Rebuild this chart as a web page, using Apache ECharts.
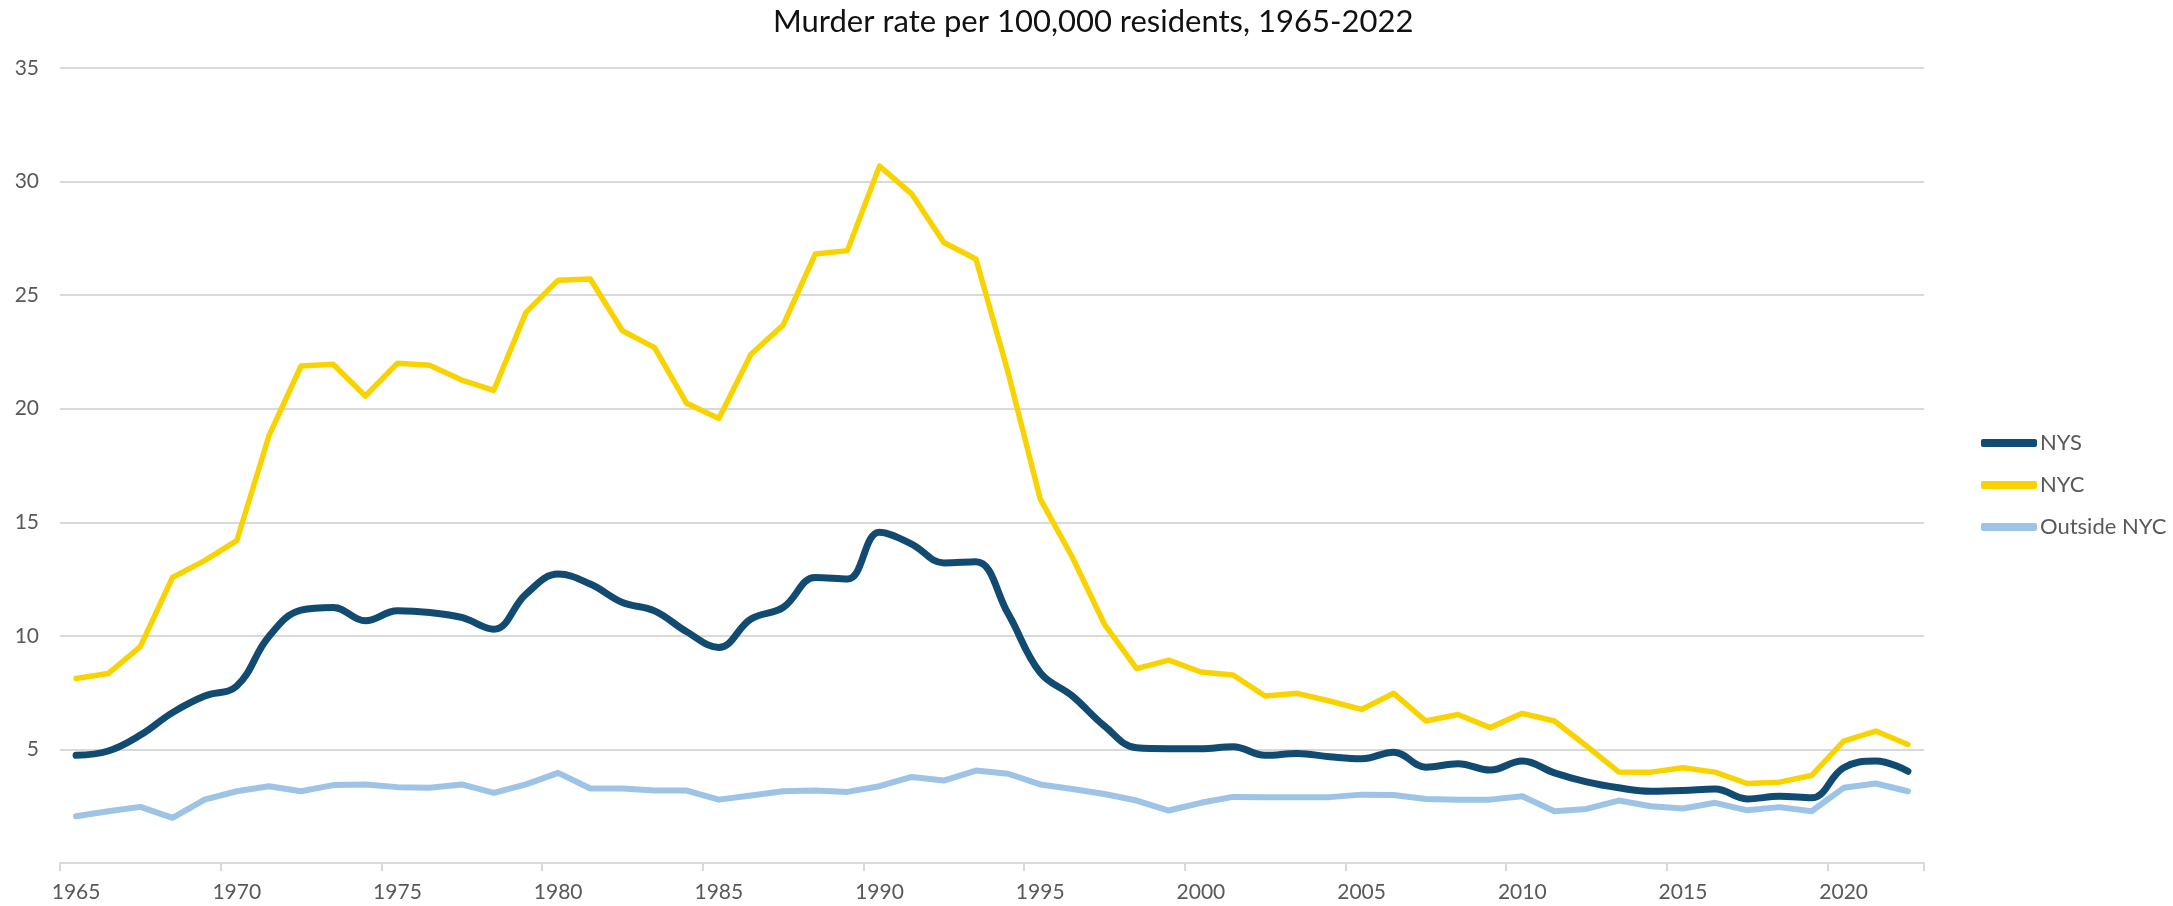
<!DOCTYPE html>
<html>
<head>
<meta charset="utf-8">
<script src="https://cdn.jsdelivr.net/npm/echarts@6/dist/echarts.min.js"></script>
<style>
html,body{margin:0;padding:0;background:#fff;}
#chart{width:2173px;height:906px;}
</style>
</head>
<body>
<div id="chart"></div>
<script>
var titleText = 'Murder rate per 100,000 residents, 1965-2022';
var years = ['1965','1966','1967','1968','1969','1970','1971','1972','1973','1974',
  '1975','1976','1977','1978','1979','1980','1981','1982','1983','1984',
  '1985','1986','1987','1988','1989','1990','1991','1992','1993','1994',
  '1995','1996','1997','1998','1999','2000','2001','2002','2003','2004',
  '2005','2006','2007','2008','2009','2010','2011','2012','2013','2014',
  '2015','2016','2017','2018','2019','2020','2021','2022'];
var seriesNames = ['NYS', 'NYC', 'Outside NYC'];
var nys = [4.74,4.93,5.63,6.62,7.35,7.79,9.97,11.13,11.25,10.66,
  11.10,11.03,10.81,10.29,11.84,12.72,12.28,11.47,11.10,10.18,
  9.49,10.74,11.25,12.57,12.50,14.56,14.04,13.21,13.26,10.98,
  8.38,7.35,6.03,5.07,5.03,5.03,5.12,4.74,4.82,4.68,
  4.59,4.88,4.22,4.37,4.09,4.49,3.97,3.57,3.31,3.16,
  3.19,3.26,2.82,2.94,2.87,4.19,4.49,4.04];
var nyc = [8.12,8.34,9.53,12.57,13.31,14.19,18.80,21.88,21.96,20.56,
  22.00,21.91,21.26,20.81,24.24,25.66,25.71,23.43,22.69,20.24,
  19.57,22.40,23.68,26.81,26.96,30.68,29.46,27.32,26.59,21.60,
  16.03,13.46,10.51,8.56,8.93,8.41,8.28,7.35,7.47,7.13,
  6.76,7.47,6.25,6.54,5.96,6.59,6.25,5.15,4.01,4.00,
  4.19,4.00,3.50,3.56,3.85,5.37,5.81,5.22];
var outside = [2.06,2.28,2.47,1.99,2.79,3.16,3.38,3.16,3.43,3.46,
  3.34,3.31,3.46,3.09,3.46,3.97,3.28,3.28,3.19,3.19,
  2.79,2.97,3.16,3.19,3.13,3.38,3.79,3.63,4.07,3.93,
  3.46,3.26,3.04,2.75,2.31,2.65,2.91,2.90,2.90,2.90,
  3.01,2.99,2.82,2.79,2.79,2.94,2.28,2.38,2.75,2.50,
  2.40,2.65,2.32,2.46,2.28,3.31,3.50,3.16];
var yTicks = [0, 5, 10, 15, 20, 25, 30, 35];

var colors = ['#124b72', '#f9d300', '#9dc3e6'];
var font = 'Lato, "Noto Sans", sans-serif';

var chart = echarts.init(document.getElementById('chart'), null, {renderer: 'canvas'});
chart.setOption({
  animation: false,
  backgroundColor: '#ffffff',
  title: {
    text: titleText,
    left: 768,
    top: 1,
    textStyle: {fontFamily: font, fontSize: 31, fontWeight: 'normal', color: '#111111'}
  },
  legend: {
    orient: 'vertical',
    left: 1976,
    top: 427,
    itemWidth: 56,
    itemHeight: 8,
    itemGap: 20,
    icon: 'roundRect',
    data: seriesNames,
    textStyle: {fontFamily: font, fontSize: 22, color: '#595959', lineHeight: 22, padding: [0,0,0,-2]}
  },
  grid: {left: 60, right: 249, top: 68, bottom: 43, containLabel: false},
  xAxis: {
    type: 'category',
    data: years,
    boundaryGap: true,
    axisLine: {show: true, lineStyle: {color: '#d9d9d9', width: 2}},
    axisTick: {show: true, interval: 4, length: 8, lineStyle: {color: '#d9d9d9', width: 2}},
    axisLabel: {interval: 4, margin: 19, fontFamily: font, fontSize: 21, color: '#595959'},
    splitLine: {show: false}
  },
  yAxis: {
    type: 'value',
    min: yTicks[0],
    max: yTicks[yTicks.length - 1],
    interval: 5,
    axisLine: {show: false},
    axisTick: {show: false},
    axisLabel: {margin: 21, fontFamily: font, fontSize: 21, color: '#595959',
      formatter: function (v) { return v === 0 ? '' : String(v); }},
    splitLine: {lineStyle: {color: '#d9d9d9', width: 2}}
  },
  series: [
    {name: seriesNames[0], type: 'line', data: nys, smooth: 0.4, showSymbol: false, z: 3,
      lineStyle: {color: colors[0], width: 7, cap: 'round', join: 'round'}, itemStyle: {color: colors[0]}},
    {name: seriesNames[1], type: 'line', data: nyc, smooth: false, showSymbol: false, z: 2,
      lineStyle: {color: colors[1], width: 5.5, cap: 'round', join: 'round'}, itemStyle: {color: colors[1]}},
    {name: seriesNames[2], type: 'line', data: outside, smooth: false, showSymbol: false, z: 1,
      lineStyle: {color: colors[2], width: 6, cap: 'round', join: 'round'}, itemStyle: {color: colors[2]}}
  ]
});
</script>
</body>
</html>
